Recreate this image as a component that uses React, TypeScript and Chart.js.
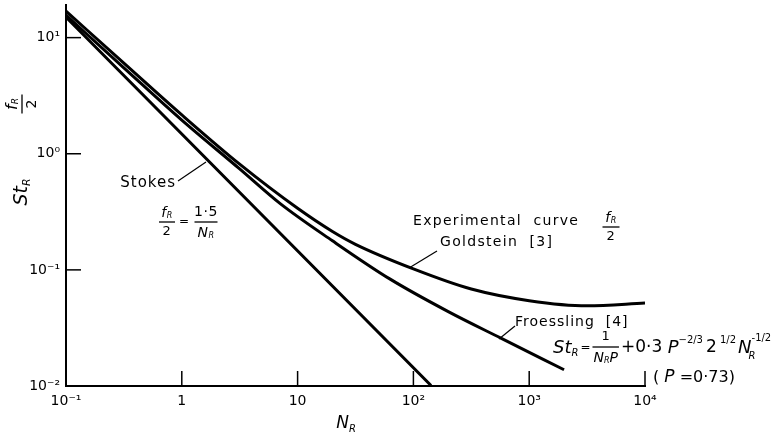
import React, { useEffect, useRef } from 'react';
import { Chart, registerables } from 'chart.js';
Chart.register(...registerables);

const FONT = '"DejaVu Sans", "Liberation Sans", sans-serif';

// Axis ticks
const X_TICKS = [0.1, 1, 10, 100, 1000, 10000];
const X_TICK_LABELS = ['10⁻¹', '1', '10', '10²', '10³', '10⁴'];
const Y_TICKS = [0.01, 0.1, 1, 10];
const Y_TICK_LABELS = ['10⁻²', '10⁻¹', '10⁰', '10¹'];

// Stokes: f_R/2 = 1.5 / N_R
const STOKES_N = [0.1, 142];
const STOKES_ST = [15, 0.0101];

// Experimental curve f_R/2, Goldstein [3]
const EXP_N = [0.1, 0.316, 1, 3.16, 10, 20, 31.6, 100, 316, 1000, 3160, 10000];
const EXP_ST = [16.9, 6.03, 2.16, 0.813, 0.339, 0.214, 0.166, 0.102, 0.0684, 0.0543, 0.049, 0.0519];

// Froessling [4]
const FROESS_N = [0.1, 0.316, 1, 3.16, 7.08, 20, 63, 200, 575, 2000];
const FROESS_ST = [15.6, 5.5, 1.95, 0.741, 0.372, 0.178, 0.0832, 0.0437, 0.0257, 0.0138];

type Seg = { t: string; s: number; i?: boolean; dy?: number; gap?: number };

function setFont(ctx: CanvasRenderingContext2D, g: Seg) {
  ctx.font = `${g.i ? 'italic ' : ''}${g.s}px ${FONT}`;
}
function runWidth(ctx: CanvasRenderingContext2D, segs: Seg[]) {
  let w = 0;
  for (const g of segs) {
    setFont(ctx, g);
    w += ctx.measureText(g.t).width + (g.gap || 0);
  }
  return w;
}
function run(ctx: CanvasRenderingContext2D, segs: Seg[], x: number, y: number) {
  let cx = x;
  ctx.textAlign = 'left';
  ctx.textBaseline = 'middle';
  for (const g of segs) {
    setFont(ctx, g);
    ctx.fillText(g.t, cx, y + (g.dy || 0));
    cx += ctx.measureText(g.t).width + (g.gap || 0);
  }
  return cx;
}
function runC(ctx: CanvasRenderingContext2D, segs: Seg[], cx: number, y: number) {
  const w = runWidth(ctx, segs);
  return run(ctx, segs, cx - w / 2, y);
}
function frac(ctx: CanvasRenderingContext2D, num: Seg[], den: Seg[], cx: number, cy: number, barW: number, off = 10) {
  runC(ctx, num, cx, cy - off);
  runC(ctx, den, cx, cy + off + 1);
  ctx.beginPath();
  ctx.lineWidth = 1.3;
  ctx.moveTo(cx - barW / 2, cy);
  ctx.lineTo(cx + barW / 2, cy);
  ctx.stroke();
}
function line(ctx: CanvasRenderingContext2D, x1: number, y1: number, x2: number, y2: number, w = 1.2) {
  ctx.beginPath();
  ctx.lineWidth = w;
  ctx.moveTo(x1, y1);
  ctx.lineTo(x2, y2);
  ctx.stroke();
}

const annotations = {
  id: 'annotations',
  afterDraw(chart: any) {
    const ctx: CanvasRenderingContext2D = chart.ctx;
    const xs = chart.scales.x;
    const ys = chart.scales.y;
    const area = chart.chartArea;
    ctx.save();
    ctx.fillStyle = '#000';
    ctx.strokeStyle = '#000';
    (ctx as any).letterSpacing = '0px';

    // inward tick marks
    X_TICKS.forEach((v, i) => {
      if (i === 0) return;
      const px = xs.getPixelForValue(v);
      line(ctx, px, area.bottom, px, area.bottom - 15, 1.5);
    });
    Y_TICKS.forEach((v, i) => {
      if (i === 0) return;
      const py = ys.getPixelForValue(v);
      line(ctx, area.left, py, area.left + 15, py, 1.5);
    });

    // X axis title N_R
    runC(ctx, [{ t: 'N', s: 17, i: true }, { t: 'R', s: 10, i: true, dy: 5 }], 346, 424);

    // Y axis title: St_R and f_R/2 (rotated)
    ctx.save();
    ctx.translate(22, 192);
    ctx.rotate(-Math.PI / 2);
    runC(ctx, [{ t: 'St', s: 19, i: true }, { t: 'R', s: 11, i: true, dy: 5 }], 0, 0);
    ctx.restore();
    ctx.save();
    ctx.translate(22, 104);
    ctx.rotate(-Math.PI / 2);
    frac(ctx, [{ t: 'f', s: 16, i: true }, { t: 'R', s: 9, i: true, dy: 3 }], [{ t: '2', s: 14 }], 0, 0, 19, 9);
    ctx.restore();

    (ctx as any).letterSpacing = '1px';
    // Stokes label and leader
    ctx.textAlign = 'right';
    ctx.textBaseline = 'middle';
    ctx.font = `15px ${FONT}`;
    ctx.fillText('Stokes', 176, 183);
    ctx.textAlign = 'left';
    line(ctx, 178, 181, 206, 162);

    (ctx as any).letterSpacing = '0.5px';
    // f_R/2 = 1.5/N_R
    frac(ctx, [{ t: 'f', s: 14, i: true }, { t: 'R', s: 8, i: true, dy: 3 }], [{ t: '2', s: 13 }], 167, 222, 16, 9);
    run(ctx, [{ t: '=', s: 12 }], 179, 222);
    frac(ctx, [{ t: '1·5', s: 14 }], [{ t: 'N', s: 14, i: true }, { t: 'R', s: 8, i: true, dy: 3 }], 206, 222, 23, 10);

    // Experimental curve label
    (ctx as any).letterSpacing = '1.3px';
    run(ctx, [{ t: 'Experimental  curve', s: 14 }], 413, 221);
    (ctx as any).letterSpacing = '0.5px';
    frac(ctx, [{ t: 'f', s: 14, i: true }, { t: 'R', s: 8, i: true, dy: 3 }], [{ t: '2', s: 13 }], 611, 227, 17, 9);
    (ctx as any).letterSpacing = '1.3px';
    run(ctx, [{ t: 'Goldstein  [3]', s: 14 }], 440, 242);
    line(ctx, 409, 268, 437, 251);

    // Froessling label
    (ctx as any).letterSpacing = '1px';
    run(ctx, [{ t: 'Froessling  [4]', s: 14 }], 515, 322);
    line(ctx, 499, 339, 515, 326);

    // Formula
    (ctx as any).letterSpacing = '0px';
    let x = run(ctx, [{ t: 'St', s: 18, i: true }, { t: 'R', s: 10, i: true, dy: 5, gap: 2 }, { t: '=', s: 12, gap: 2 }], 553, 348);
    const den: Seg[] = [{ t: 'N', s: 14, i: true }, { t: 'R', s: 8, i: true, dy: 3 }, { t: 'P', s: 14, i: true }];
    const denW = runWidth(ctx, den);
    frac(ctx, [{ t: '1', s: 13 }], den, x + denW / 2 + 1, 347, denW + 2, 10);
    x += denW + 4;
    x = run(ctx, [
      { t: '+0·3 ', s: 17 },
      { t: 'P', s: 18, i: true },
      { t: '−2/3', s: 10, dy: -8, gap: 3 },
      { t: '2', s: 17 },
      { t: ' 1/2', s: 10, dy: -8, gap: 2 },
      { t: 'N', s: 18, i: true },
    ], x, 348);
    run(ctx, [{ t: 'R', s: 10, i: true }], x - 3, 356);
    run(ctx, [{ t: '-1/2', s: 10 }], x, 338);

    // (P = 0.73)
    run(ctx, [{ t: '( ', s: 16 }, { t: 'P', s: 17, i: true }, { t: ' =0·73)', s: 16 }], 653, 378);

    ctx.restore();
  },
};

export default function App() {
  const ref = useRef<HTMLCanvasElement | null>(null);
  useEffect(() => {
    document.body.style.margin = '0';
    const mk = (N: number[], S: number[]) => N.map((n, i) => ({ x: n, y: S[i] }));
    const ds = (data: any[]) => ({
      data,
      borderColor: '#000',
      borderWidth: 3,
      pointRadius: 0,
      fill: false,
      cubicInterpolationMode: 'monotone' as const,
    });
    const chart = new Chart(ref.current as HTMLCanvasElement, {
      type: 'line',
      data: {
        datasets: [
          ds(mk(STOKES_N, STOKES_ST)),
          ds(mk(EXP_N, EXP_ST)),
          ds(mk(FROESS_N, FROESS_ST)),
        ],
      },
      options: {
        animation: false,
        responsive: false,
        devicePixelRatio: 1,
        layout: { padding: { top: 5, right: 136, left: 0, bottom: 0 } },
        plugins: { legend: { display: false }, tooltip: { enabled: false } },
        scales: {
          x: {
            type: 'logarithmic',
            min: 0.1,
            max: 10000,
            afterBuildTicks: (s: any) => {
              s.ticks = X_TICKS.map((v) => ({ value: v }));
            },
            afterFit: (s: any) => {
              s.height = 52;
              s.paddingLeft = 0;
              s.paddingRight = 0;
            },
            grid: { display: false, drawTicks: false },
            border: { display: true, color: '#000', width: 2 },
            ticks: {
              autoSkip: false,
              maxRotation: 0,
              padding: 7,
              color: '#000',
              font: { family: FONT, size: 14 },
              callback: (_v: any, i: number) => X_TICK_LABELS[i],
            },
          },
          y: {
            type: 'logarithmic',
            min: 0.01,
            max: 19.1,
            afterBuildTicks: (s: any) => {
              s.ticks = Y_TICKS.map((v) => ({ value: v }));
            },
            afterFit: (s: any) => {
              s.width = 66;
              s.paddingTop = 0;
              s.paddingBottom = 0;
            },
            grid: { display: false, drawTicks: false },
            border: { display: true, color: '#000', width: 2 },
            ticks: {
              autoSkip: false,
              padding: 6,
              color: '#000',
              font: { family: FONT, size: 14 },
              callback: (_v: any, i: number) => Y_TICK_LABELS[i],
            },
          },
        },
      },
      plugins: [annotations],
    } as any);
    return () => chart.destroy();
  }, []);
  return <canvas ref={ref} width={781} height={438} style={{ display: 'block' }} />;
}
